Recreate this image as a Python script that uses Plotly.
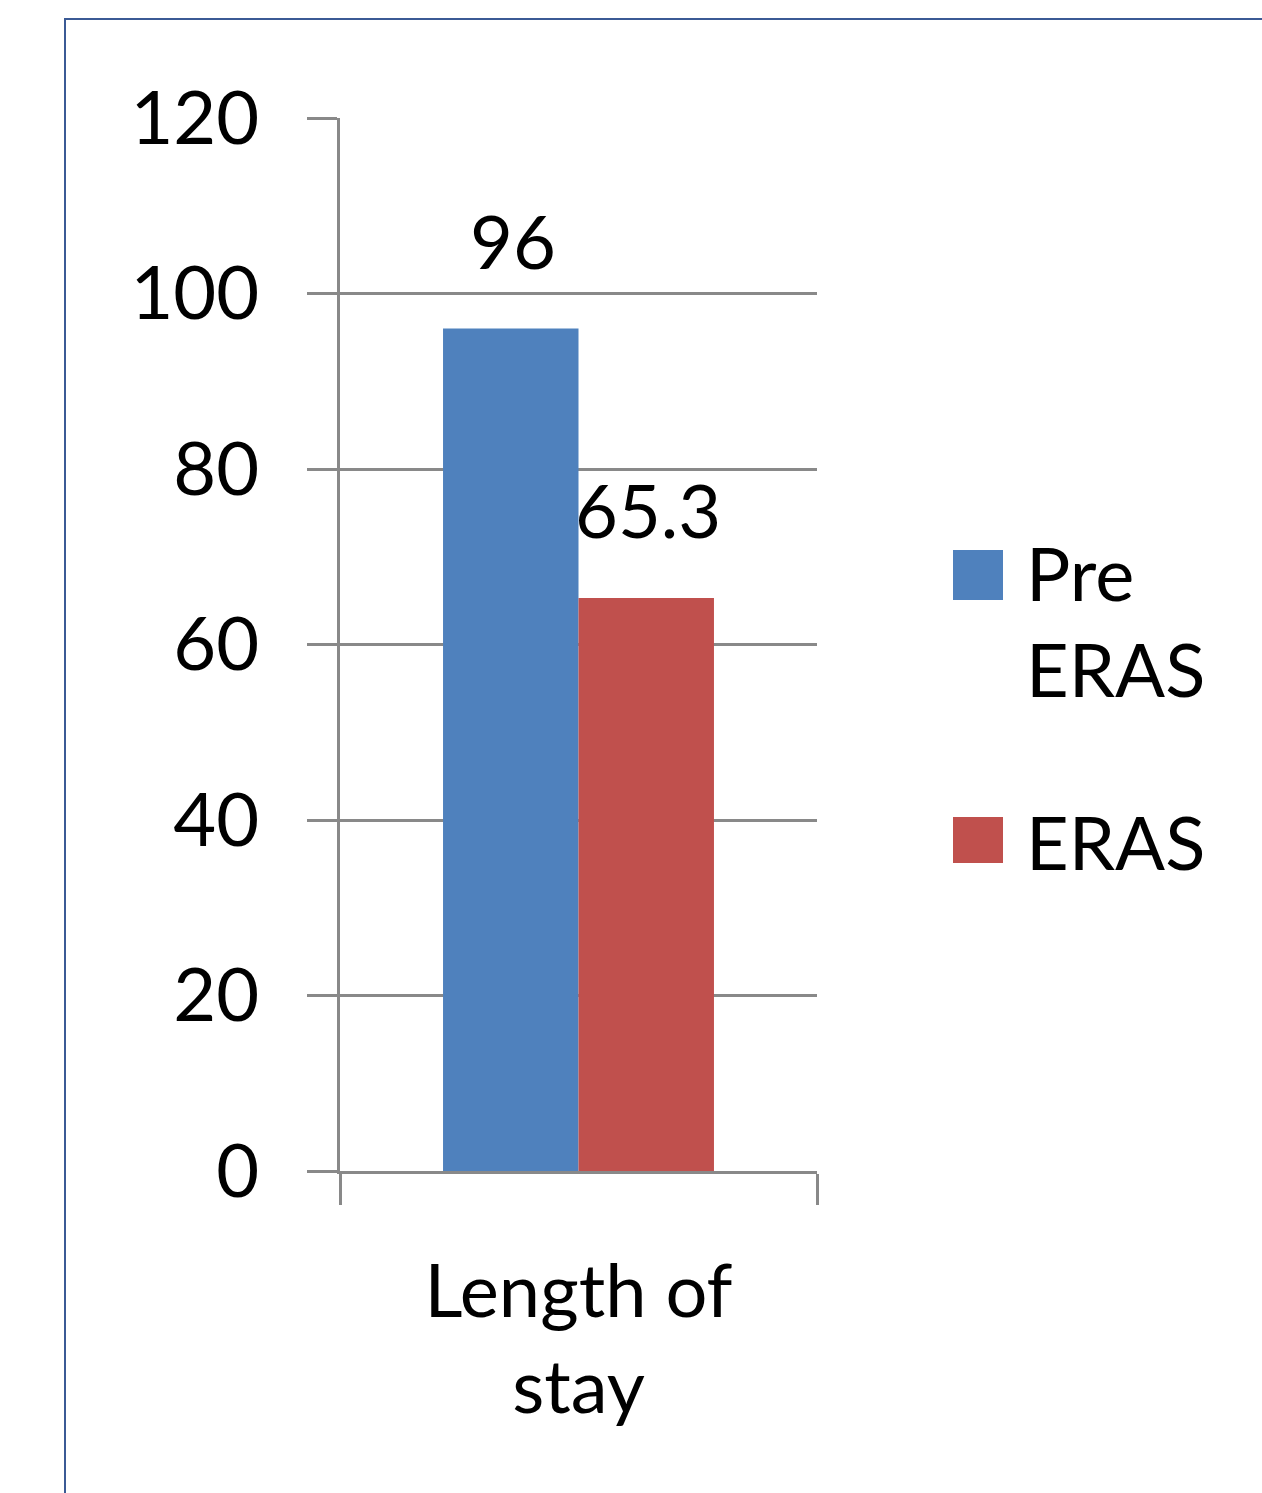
import plotly.graph_objects as go

# Length of stay before and after the ERAS programme
categories = ["Length of<br>stay"]
series_names = ["Pre<br>ERAS", "ERAS"]
pre_eras = [96]
eras = [65.3]
y_ticks = [0, 20, 40, 60, 80, 100, 120]

BLUE = "#4F81BD"
RED = "#C0504D"
GRID = "#898989"
FONT = "Lato"
FS = 74

W, H = 1262, 1493
L, R, T, B = 340, 445, 118, 322
plot_w = W - L - R
plot_h = H - T - B
bargap = 0.432

fig = go.Figure()
fig.add_trace(go.Bar(x=categories, y=pre_eras, name=series_names[0],
                     marker=dict(color=BLUE, line=dict(width=0)), showlegend=False))
fig.add_trace(go.Bar(x=categories, y=eras, name=series_names[1],
                     marker=dict(color=RED, line=dict(width=0)), showlegend=False))

# value labels above each bar
offset = (1 - bargap) / 4 * plot_w
for vals, sign in ((pre_eras, -1), (eras, 1)):
    for c, v in zip(categories, vals):
        fig.add_annotation(x=c, y=v, text=f"{v:g}", showarrow=False,
                           xshift=sign * offset + 2, yshift=42, yanchor="bottom",
                           font=dict(family=FONT, size=FS, color="black"))

# legend drawn as swatches + labels
def px_x(p):
    return (p - L) / plot_w

def px_y(p):
    return (H - B - p) / plot_h

legend_items = [(series_names[0], BLUE, 550, 600, 526), (series_names[1], RED, 817, 863, 795)]
for name, col, y0, y1, ty in legend_items:
    fig.add_shape(type="rect", xref="paper", yref="paper",
                  x0=px_x(953), x1=px_x(1003), y0=px_y(y1), y1=px_y(y0),
                  fillcolor=col, line=dict(width=0))
    fig.add_annotation(xref="paper", yref="paper", x=px_x(1024), y=px_y(ty),
                       xanchor="left", yanchor="top", align="left", showarrow=False,
                       text=name, font=dict(family=FONT, size=FS, color="black"))

# outer frame (left and top edges)
fig.add_shape(type="path", xref="paper", yref="paper",
              path=f"M {px_x(65)},{px_y(H + 5)} L {px_x(65)},{px_y(19)} L {px_x(W + 5)},{px_y(19)}",
              line=dict(color="#3B5A95", width=2))

fig.update_layout(
    width=W, height=H,
    margin=dict(l=L, r=R, t=T, b=B, pad=0),
    paper_bgcolor="white", plot_bgcolor="white",
    barmode="group", bargap=bargap, bargroupgap=0,
    font=dict(family=FONT, size=FS, color="black"),
)
fig.update_yaxes(range=[0, 120], tickvals=y_ticks, showgrid=True, gridcolor=GRID, gridwidth=3,
                 showline=True, linecolor=GRID, linewidth=3,
                 ticks="outside", ticklen=30, tickwidth=3, tickcolor=GRID,
                 ticklabelstandoff=33, zeroline=False,
                 tickfont=dict(family=FONT, size=FS, color="black"))
fig.update_xaxes(type="category", showline=True, linecolor=GRID, linewidth=3,
                 ticks="outside", tickson="boundaries", ticklen=31, tickwidth=3, tickcolor=GRID,
                 ticklabelstandoff=54,
                 tickfont=dict(family=FONT, size=FS, color="black"))

fig.write_html("out.html")
